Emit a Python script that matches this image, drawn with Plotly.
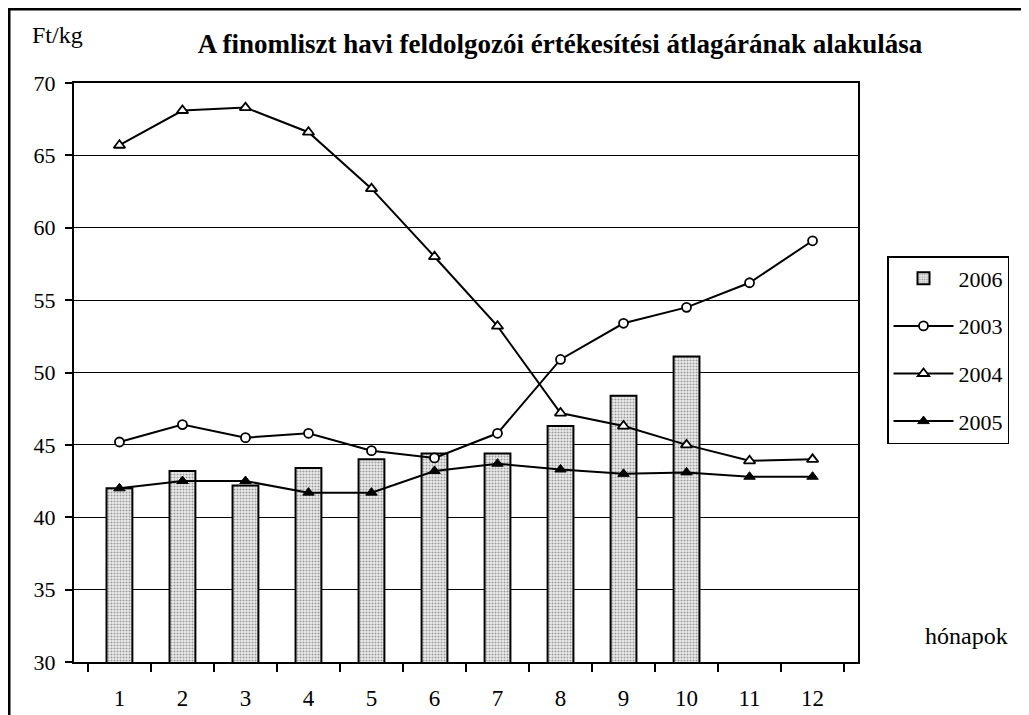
import plotly.graph_objects as go

months = ["1", "2", "3", "4", "5", "6", "7", "8", "9", "10", "11", "12"]
y2006 = [42.0, 43.2, 42.2, 43.4, 44.0, 44.4, 44.4, 46.3, 48.4, 51.1]
y2003 = [45.2, 46.4, 45.5, 45.8, 44.6, 44.1, 45.8, 50.9, 53.4, 54.5, 56.2, 59.1]
y2004 = [65.7, 68.1, 68.3, 66.6, 62.7, 58.0, 53.2, 47.2, 46.3, 45.0, 43.9, 44.0]
y2005 = [42.0, 42.5, 42.5, 41.7, 41.7, 43.2, 43.7, 43.3, 43.0, 43.1, 42.8, 42.8]
yticks = [30, 35, 40, 45, 50, 55, 60, 65, 70]

W, H = 1029, 715
OFF = 8  # page body margin
L, R, T, B = 66, 179, 75, 61
pw, ph = W - L - R, H - T - B

def px(xs):
    return (xs - OFF - L) / pw

def py(ys):
    return (H - B - (ys - OFF)) / ph

FONT = "Liberation Serif"

fig = go.Figure()
fig.add_trace(go.Bar(
    x=months[:len(y2006)], y=y2006, name="2006", legendgroup="a",
    width=0.41,
    marker=dict(color="white", line=dict(color="black", width=2),
                pattern=dict(shape=".", fgcolor="#4a4a4a", bgcolor="#eeeeee",
                             size=3, solidity=0.4)),
))
fig.add_trace(go.Scatter(
    x=months, y=y2003, name="2003", legendgroup="b", mode="lines+markers",
    line=dict(color="black", width=2),
    marker=dict(symbol="circle", size=9, color="white", line=dict(color="black", width=1.8)),
))
fig.add_trace(go.Scatter(
    x=months, y=y2004, name="2004", legendgroup="c", mode="lines+markers",
    line=dict(color="black", width=2),
    marker=dict(symbol="triangle-up", size=10, color="white", line=dict(color="black", width=1.8)),
))
fig.add_trace(go.Scatter(
    x=months, y=y2005, name="2005", legendgroup="d", mode="lines+markers",
    line=dict(color="black", width=2),
    marker=dict(symbol="triangle-up", size=10, color="black", line=dict(color="black", width=1)),
))

fig.update_layout(
    width=W, height=H,
    margin=dict(l=L, r=R, t=T, b=B, autoexpand=False),
    paper_bgcolor="white", plot_bgcolor="white",
    font=dict(family=FONT, size=22, color="black"),
    title=dict(text="<b>A finomliszt havi feldolgozói értékesítési átlagárának alakulása</b>",
               font=dict(family=FONT, size=27, color="black"),
               x=px(560), xref="paper", xanchor="center",
               y=1 - 36 / H, yref="container", yanchor="middle"),
    showlegend=True,
    legend=dict(x=px(887), y=py(256), xanchor="left", yanchor="top",
                bordercolor="black", borderwidth=1.5, bgcolor="white",
                font=dict(family=FONT, size=22, color="black"),
                tracegroupgap=16, itemwidth=60, traceorder="grouped"),
    bargap=0.59,
)
fig.update_xaxes(
    type="category", categoryorder="array", categoryarray=months,
    showline=True, linecolor="black", linewidth=2, mirror=True,
    ticks="outside", tickson="boundaries", ticklen=8, tickwidth=2, tickcolor="black",
    showgrid=False, ticklabelstandoff=14,
    tickfont=dict(family=FONT, size=23, color="black"),
)
fig.update_yaxes(
    range=[30, 70], tickvals=yticks, ticktext=[str(v) for v in yticks],
    showline=True, linecolor="black", linewidth=2, mirror=True,
    ticks="outside", ticklen=7, tickwidth=2, tickcolor="black",
    showgrid=True, gridcolor="black", gridwidth=1, zeroline=False,
    ticklabelstandoff=5,
    tickfont=dict(family=FONT, size=22, color="black"),
)

fig.add_shape(type="rect", xref="paper", yref="paper",
              x0=px(OFF + 1), x1=px(OFF + W - 1), y0=py(OFF + H - 1), y1=py(OFF + 1),
              line=dict(color="black", width=3), layer="above")

fig.add_annotation(text="Ft/kg", xref="paper", yref="paper",
                   x=px(30), y=py(35), xanchor="left", yanchor="middle",
                   showarrow=False, font=dict(family=FONT, size=24, color="black"))
fig.add_annotation(text="hónapok", xref="paper", yref="paper",
                   x=px(923), y=py(636), xanchor="left", yanchor="middle",
                   showarrow=False, font=dict(family=FONT, size=24, color="black"))

fig.write_html("out.html")
